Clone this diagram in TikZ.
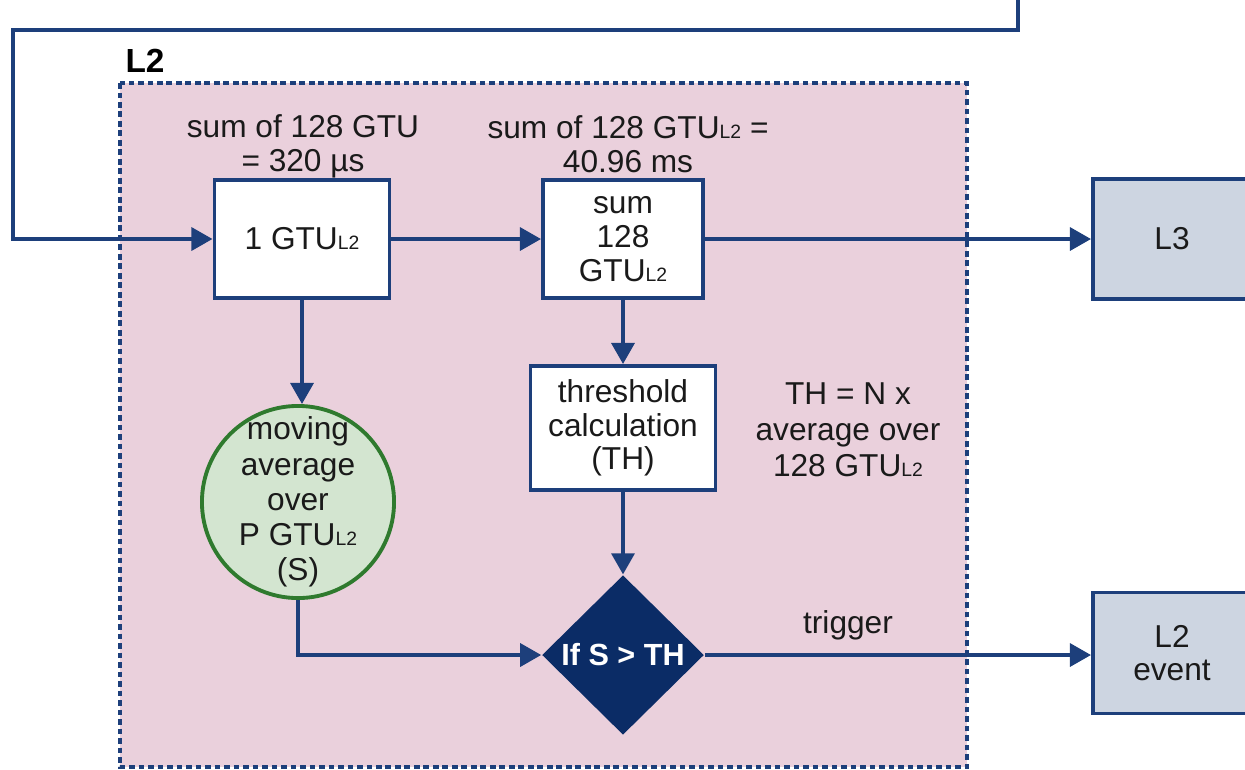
\documentclass[tikz,border=0pt]{standalone}
\usepackage{fontspec}
\setmainfont{Liberation Sans}
\usetikzlibrary{arrows.meta}
\usetikzlibrary{shapes}

\definecolor{navy}{HTML}{1D3F7B}
\definecolor{darknavy}{HTML}{0B2C66}
\definecolor{pinkfill}{HTML}{EAD0DC}
\definecolor{greenfill}{HTML}{D3E5D0}
\definecolor{greenline}{HTML}{2F7A2E}
\definecolor{greyblue}{HTML}{CDD5E1}
\definecolor{textgrey}{HTML}{1A1A1A}

\newcommand{\Ltwo}{{\fontsize{5.5}{6}\selectfont L2}}

\begin{document}
\begin{tikzpicture}[x = 0.01cm, y = -0.01cm, font = \fontsize{9}{9.6}\selectfont, text = textgrey]
	\tikzstyle{boxStyle} = [shape = rectangle, draw = navy, line width = 1.1pt, fill = white, align = center, inner sep = 2pt]
	\tikzstyle{outStyle} = [boxStyle, fill = greyblue]
	\tikzstyle{avgStyle} = [shape = circle, draw = greenline, line width = 1.1pt, fill = greenfill, align = center, inner sep = -2pt, minimum size = 1.92cm, font = \fontsize{9}{10}\selectfont]
	\tikzstyle{testStyle} = [shape = diamond, fill = darknavy, text = white, font = \fontsize{8.7}{10}\selectfont\bfseries, inner sep = 1pt, minimum width = 1.62cm, minimum height = 1.58cm]
	\tikzstyle{noteStyle} = [align = center, inner sep = 0pt]
	\tikzstyle{flowStyle} = [draw = navy, line width = 1.1pt, -{Triangle[length = 6pt, width = 6.5pt]}]
	\useasboundingbox (0,0) rectangle (1245,769);
	\draw[draw = navy, fill = pinkfill, line width = 1pt, dash pattern = on 1.6pt off 1.1pt] (120,83) rectangle (967,767);
	\node[font = \fontsize{9.5}{10}\selectfont\bfseries, text = black, inner sep = 0pt] (lvl) at (145,61) {L2};
	\node[boxStyle, minimum width = 1.75cm, minimum height = 1.18cm] (gtu) at (302,239) {1 GTU\Ltwo};
	\node[boxStyle, minimum width = 1.60cm, minimum height = 1.18cm] (sum) at (623,239) {sum\\128\\GTU\Ltwo};
	\node[boxStyle, minimum width = 1.85cm, minimum height = 1.24cm] (th) at (623,428) {threshold\\calculation\\(TH)};
	\node[avgStyle] (avg) at (298,502) {moving\\average\\over\\P GTU\Ltwo\\(S)};
	\node[testStyle] (test) at (623,655) {If S > TH};
	\node[outStyle, minimum width = 1.58cm, minimum height = 1.20cm] (lthree) at (1172,239) {L3};
	\node[outStyle, minimum width = 1.58cm, minimum height = 1.21cm] (event) at (1172,653) {L2\\event};
	\node[noteStyle] (gtunote) at (303,146) {sum of 128 GTU\\= 320 µs};
	\node[noteStyle] (sumnote) at (628,144) {sum of 128 GTU\Ltwo\ =\\40.96 ms};
	\node[noteStyle, font = \fontsize{9}{10.3}\selectfont] (thnote) at (848,430) {TH = N x\\average over\\128 GTU\Ltwo};
	\node[noteStyle] (trig) at (848,625) {trigger};
	\coordinate (loop) at (1018,-10);
	\draw[flowStyle] (loop) |- (13,30) |- (gtu.west);
	\draw[flowStyle] (gtu) -- (sum);
	\draw[flowStyle] (sum) -- (lthree);
	\draw[flowStyle] (sum) -- (th);
	\draw[flowStyle] (th) -- (test);
	\draw[flowStyle] (gtu.south) -- (gtu.south |- avg.north);
	\draw[flowStyle] (avg.south) |- (test.west);
	\draw[flowStyle] (test.east) -- (test.east -| event.west);
\end{tikzpicture}
\end{document}
